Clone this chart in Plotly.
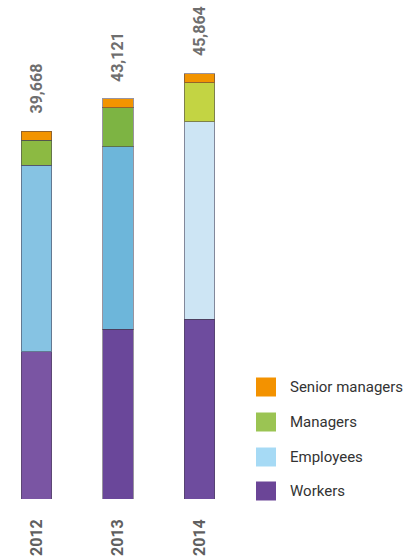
import plotly.graph_objects as go

# Headcount by category (stacked from the bottom up)
years = ["2012", "2013", "2014"]
workers = [15868, 18281, 19374]
employees = [20110, 19680, 21320]
managers = [2710, 4190, 4200]
senior_managers = [980, 970, 970]
totals = [39668, 43121, 45864]

series_names = ["Workers", "Employees", "Managers", "Senior managers"]
series_values = [workers, employees, managers, senior_managers]

# per-bar shades (watercolour look varies a little from year to year)
bar_colors = [
    ["#7a55a3", "#6a479a", "#6e4c9e"],
    ["#86c3e3", "#6db6da", "#cde5f4"],
    ["#8cba42", "#7db443", "#c3d443"],
    ["#f29400", "#f29400", "#f29400"],
]
legend_colors = ["#6b4597", "#a6daf5", "#9bc453", "#f39200"]

W, H = 403, 556
MB = 57            # bottom margin in px
PLOT_H = H - MB
UNITS_PER_PX = 107.8
SLOT_PX = 81.5     # distance between bar centres
FIRST_PX = 36.5    # centre of first bar

font_family = "Roboto, sans-serif"

fig = go.Figure()
for name, vals, cols in zip(series_names, series_values, bar_colors):
    fig.add_trace(go.Bar(
        x=years, y=vals, name=name,
        marker=dict(color=cols, line=dict(color="rgba(70,60,80,0.55)", width=1)),
        width=0.38, showlegend=False,
    ))

# totals written above each bar (category axis -> positional index)
for i, tot in enumerate(totals):
    fig.add_annotation(
        x=i, y=tot, text=f"<b>{tot:,}</b>", textangle=-90,
        showarrow=False, yanchor="bottom", xanchor="center", yshift=15,
        font=dict(family=font_family, size=16, color="#6e6e6e"),
    )

# legend: square swatch + label, top entry first
legend_rows_px = [387, 422, 457, 491]
for name, col, cy in zip(reversed(series_names), reversed(legend_colors), legend_rows_px):
    fig.add_shape(
        type="rect", xref="paper", yref="paper",
        x0=256 / W, x1=276 / W,
        y0=(PLOT_H - cy - 9.5) / PLOT_H, y1=(PLOT_H - cy + 9.5) / PLOT_H,
        fillcolor=col, line=dict(width=0),
    )
    fig.add_annotation(
        xref="paper", yref="paper", x=288 / W, y=(PLOT_H - cy) / PLOT_H,
        text=name, showarrow=False, xanchor="left", yanchor="middle",
        font=dict(family=font_family, size=15, color="#333333"),
    )

x0 = -FIRST_PX / SLOT_PX
fig.update_layout(
    width=W, height=H,
    margin=dict(l=0, r=0, t=0, b=MB, pad=0, autoexpand=False),
    barmode="stack",
    paper_bgcolor="white", plot_bgcolor="white",
    xaxis=dict(
        type="category", range=[x0, x0 + W / SLOT_PX],
        showgrid=False, zeroline=False, showline=False, automargin=False,
        tickangle=-90, ticks="", ticklabelstandoff=16,
        tickfont=dict(family=font_family, size=16, color="#606060", weight="bold"),
    ),
    yaxis=dict(
        range=[0, PLOT_H * UNITS_PER_PX], visible=False,
        showgrid=False, zeroline=False,
    ),
)

fig.write_html("out.html")
